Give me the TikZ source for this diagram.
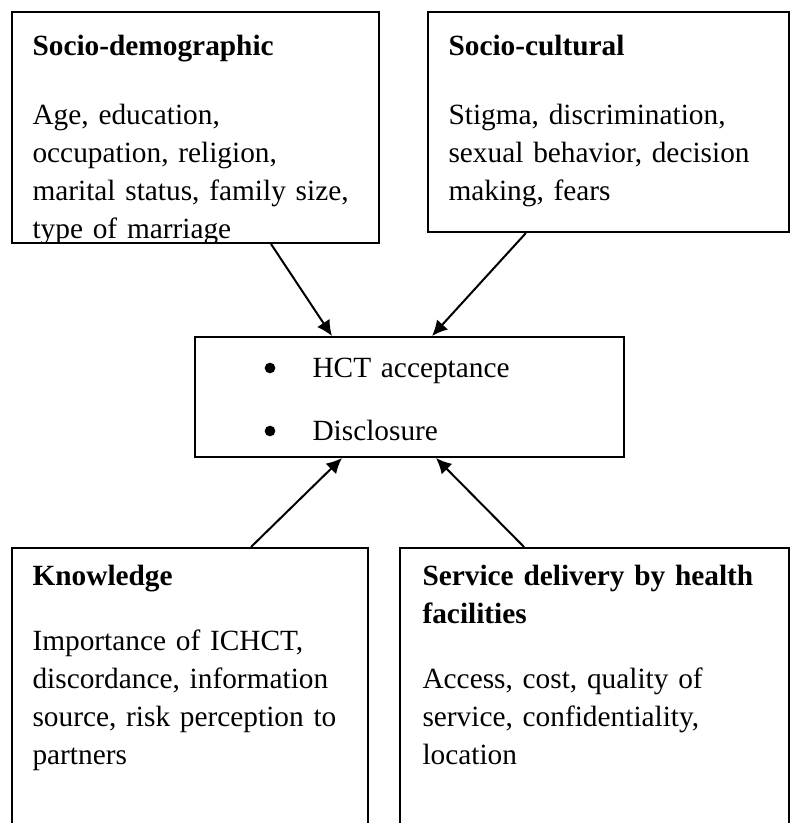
\documentclass[tikz,border=0pt]{standalone}
\usepackage{fontspec}
\setmainfont{Liberation Serif}
\usetikzlibrary{arrows.meta,fit}

\tikzstyle{frame}=[draw, line width=.75pt, inner sep=0pt, rectangle]
\tikzstyle{heading}=[anchor=base west, inner sep=0pt, text width=140pt, align=left, font=\bfseries]
\tikzstyle{body}=[anchor=base west, inner sep=0pt, text width=140pt, align=left]
\tikzstyle{bullet}=[circle, fill, inner sep=0pt, minimum size=4pt]
\tikzstyle{link}=[line width=.75pt, -{Latex[length=5.8pt,width=5.6pt]}]

\begin{document}
\begin{tikzpicture}[x=.375pt,y=-.375pt]
    \fontsize{11pt}{14.25pt}\selectfont
    \useasboundingbox (0,0) rectangle (790,823);

    % Boxes
    \node[frame, fit={(12,12) (379,243)}] (sociodemo) {};
    \node[frame, fit={(428,12) (789,232)}] (sociocult) {};
    \node[frame, fit={(195,337) (624,457)}] (outcome) {};
    \node[frame, fit={(12,548) (368,840)}] (knowledge) {};
    \node[frame, fit={(400,548) (789,840)}] (service) {};

    % Texts (the first box cuts off its last line)
    \begin{scope}
        \clip (sociodemo.north west) rectangle (sociodemo.south east);
        \draw (32,56) node[heading] (sociodemo title) {Socio-demographic};
        \draw (32,125) node[body] (sociodemo list) {Age, education,\\ occupation, religion,\\ marital status, family size,\\ type of marriage};
    \end{scope}
    \draw (448,56) node[heading] (sociocult title) {Socio-cultural};
    \draw (448,125) node[body] (sociocult list) {Stigma, discrimination,\\ sexual behavior, decision\\ making, fears};
    \draw (32,585) node[heading] (knowledge title) {Knowledge};
    \draw (32,650) node[body] (knowledge list) {Importance of ICHCT,\\ discordance, information\\ source, risk perception to\\ partners};
    \draw (422,585) node[heading] (service title) {Service delivery by health\\ facilities};
    \draw (422,688) node[body] (service list) {Access, cost, quality of\\ service, confidentiality,\\ location};

    % Outcomes
    \draw (270,368) node[bullet] (dot1) {};
    \draw (270,431) node[bullet] (dot2) {};
    \draw (312,377) node[body] (acceptance) {HCT acceptance};
    \draw (312,440) node[body] (disclosure) {Disclosure};

    % Arrows
    \draw[link] ([xshift=97.5pt]sociodemo.south west) -- ([xshift=51.75pt]outcome.north west);
    \draw[link] ([xshift=37.1pt]sociocult.south west) -- ([xshift=89.25pt]outcome.north west);
    \draw[link] ([xshift=90pt]knowledge.north west) -- ([xshift=55.5pt]outcome.south west);
    \draw[link] ([xshift=46.9pt]service.north west) -- ([xshift=90.75pt]outcome.south west);
\end{tikzpicture}
\end{document}
